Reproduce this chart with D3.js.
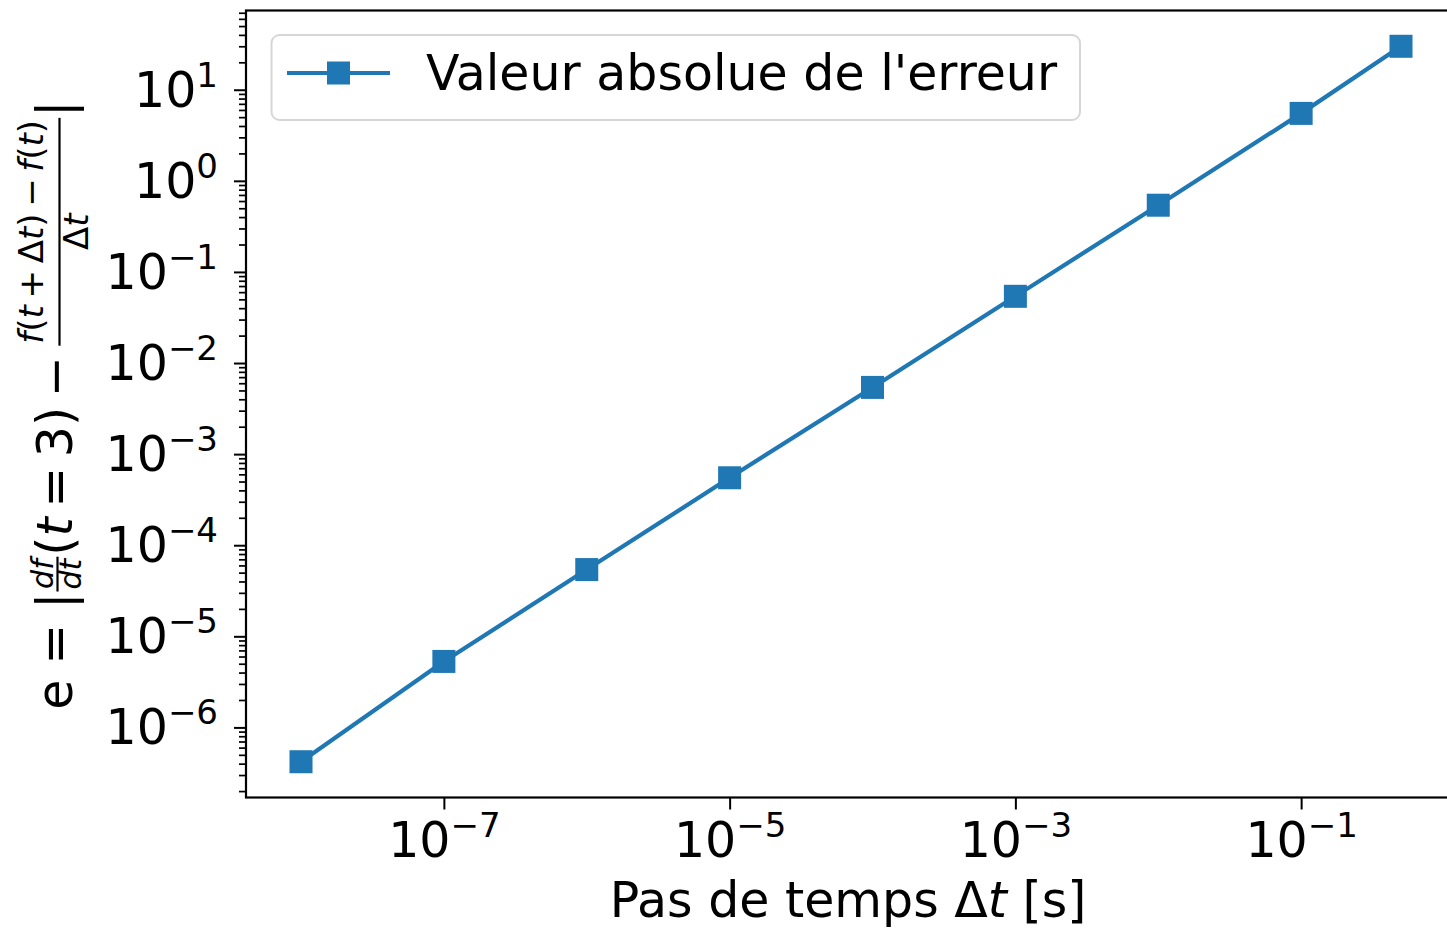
<!DOCTYPE html>
<html>
<head>
<meta charset="utf-8">
<script src="https://cdn.jsdelivr.net/npm/d3@7"></script>
<style>
  body { margin: 0; background: #ffffff; }
  svg { display: block; font-family: "DejaVu Sans", sans-serif; }
</style>
</head>
<body>
<svg id="chart" width="1447" height="930"></svg>
<script>
// Forward-difference error of the derivative at t = 3 versus the time step
const steps  = [1e-8, 1e-7, 1e-6, 1e-5, 1e-4, 1e-3, 1e-2, 1e-1, 0.5];
const errors = [4.2e-7, 5.3e-6, 5.4e-5, 5.5e-4, 5.4e-3, 5.4e-2, 0.54, 5.5, 30];
const xTickExponents = [-7, -5, -3, -1];
const yTickExponents = [-6, -5, -4, -3, -2, -1, 0, 1];
const seriesName = "Valeur absolue de l'erreur";

const BLUE = "#1f77b4";
const FONT = 49;          // tick / label size
const SUP = 34;           // exponent size
const svg = d3.select("#chart");

svg.append("rect").attr("width", 1447).attr("height", 930).attr("fill", "#fff");

// log axes padded by 5% of the decades spanned, like matplotlib autoscaling
function paddedLogDomain(vals, m = 0.05) {
  const lo = Math.log10(d3.min(vals)), hi = Math.log10(d3.max(vals));
  const pad = (hi - lo) * m;
  return [Math.pow(10, lo - pad), Math.pow(10, hi + pad)];
}
const plot = { left: 246, right: 1456, top: 10.5, bottom: 797.5 };
const x = d3.scaleLog().domain(paddedLogDomain(steps)).range([plot.left, plot.right]);
const y = d3.scaleLog().domain(paddedLogDomain(errors)).range([plot.bottom, plot.top]);

// minor ticks 2..9 per decade inside the y domain
const yMinor = [];
{
  const [d0, d1] = y.domain();
  for (let k = Math.floor(Math.log10(d0)); k <= Math.ceil(Math.log10(d1)); k++) {
    for (let m = 2; m <= 9; m++) {
      const v = m * Math.pow(10, k);
      if (v >= d0 && v <= d1) yMinor.push(v);
    }
  }
}

// power-of-ten label as "10" + raised exponent
function powerLabel(sel, exp) {
  sel.text(null);
  sel.append("tspan").text("10");
  sel.append("tspan").attr("font-size", SUP).attr("dy", -20)
    .text((exp < 0 ? "\u2212" : "") + Math.abs(exp));
}

// x axis
const gx = svg.append("g").attr("transform", `translate(0,${plot.bottom})`)
  .call(d3.axisBottom(x).tickValues(xTickExponents.map(e => Math.pow(10, e)))
    .tickSize(12).tickSizeOuter(0).tickFormat(""));
gx.select(".domain").remove();
gx.selectAll(".tick line").attr("stroke", "#000").attr("stroke-width", 2);
gx.selectAll(".tick text").each(function (d) {
  const t = d3.select(this).attr("y", 59.5).attr("dy", null)
    .attr("font-size", FONT).attr("fill", "#000").attr("font-family", "DejaVu Sans");
  powerLabel(t, Math.round(Math.log10(d)));
});

// y axis (minor then major)
const gyMinor = svg.append("g").attr("transform", `translate(${plot.left},0)`)
  .call(d3.axisLeft(y).tickValues(yMinor).tickSize(7).tickSizeOuter(0).tickFormat(""));
gyMinor.select(".domain").remove();
gyMinor.selectAll(".tick line").attr("stroke", "#000").attr("stroke-width", 1.7);

const gy = svg.append("g").attr("transform", `translate(${plot.left},0)`)
  .call(d3.axisLeft(y).tickValues(yTickExponents.map(e => Math.pow(10, e)))
    .tickSize(12).tickSizeOuter(0).tickFormat(""));
gy.select(".domain").remove();
gy.selectAll(".tick line").attr("stroke", "#000").attr("stroke-width", 2);
gy.selectAll(".tick text").each(function (d) {
  const t = d3.select(this).attr("x", -28).attr("dy", null).attr("y", 16.5)
    .attr("text-anchor", "end")
    .attr("font-size", FONT).attr("fill", "#000").attr("font-family", "DejaVu Sans");
  powerLabel(t, Math.round(Math.log10(d)));
});

// frame
svg.append("rect")
  .attr("x", plot.left).attr("y", plot.top)
  .attr("width", plot.right - plot.left).attr("height", plot.bottom - plot.top)
  .attr("fill", "none").attr("stroke", "#000").attr("stroke-width", 2.2);

// series
const pts = steps.map((s, i) => [s, errors[i]]);
svg.append("path").datum(pts)
  .attr("fill", "none").attr("stroke", BLUE).attr("stroke-width", 4.2)
  .attr("stroke-linejoin", "round")
  .attr("d", d3.line().x(d => x(d[0])).y(d => y(d[1])));
const MK = 23;
svg.append("g").selectAll("rect").data(pts).join("rect")
  .attr("x", d => x(d[0]) - MK / 2).attr("y", d => y(d[1]) - MK / 2)
  .attr("width", MK).attr("height", MK).attr("fill", BLUE);

// legend
const lg = svg.append("g");
lg.append("rect").attr("x", 271.5).attr("y", 35).attr("width", 808.5).attr("height", 85)
  .attr("rx", 8).attr("fill", "#fff").attr("fill-opacity", 0.8)
  .attr("stroke", "#cccccc").attr("stroke-opacity", 0.8).attr("stroke-width", 2);
lg.append("line").attr("x1", 287).attr("x2", 390).attr("y1", 73).attr("y2", 73)
  .attr("stroke", BLUE).attr("stroke-width", 4.2);
lg.append("rect").attr("x", 338.5 - MK / 2).attr("y", 73 - MK / 2)
  .attr("width", MK).attr("height", MK).attr("fill", BLUE);
lg.append("text").attr("x", 426).attr("y", 90).attr("font-size", FONT).attr("fill", "#000")
  .text(seriesName);

// x label: Pas de temps Δt [s]
const xl = svg.append("text").attr("x", (plot.left + plot.right) / 2 - 3).attr("y", 917)
  .attr("text-anchor", "middle").attr("font-size", FONT).attr("fill", "#000");
xl.append("tspan").text("Pas de temps \u0394");
xl.append("tspan").attr("font-style", "italic").text("t");
xl.append("tspan").text(" [s]");

// y label: typeset formula along the rotated baseline
const MAIN = 49, FS = 30, FB = 34;
function runWidth(parts, size) {
  const t = svg.append("text").attr("font-size", size);
  parts.forEach(p => t.append("tspan").attr("font-style", p[1] ? "italic" : "normal")
    .attr("dx", p[2] ? p[2] * size : 0).text(p[0]));
  const w = t.node().getComputedTextLength() + d3.sum(parts, p => (p[2] || 0) * size);
  t.remove();
  return w;
}
function drawRun(g, parts, size, u, v, anchor) {
  const t = g.append("text").attr("x", u).attr("y", v).attr("font-size", size)
    .attr("fill", "#000").attr("text-anchor", anchor || "start");
  parts.forEach(p => t.append("tspan").attr("font-style", p[1] ? "italic" : "normal")
    .attr("dx", p[2] ? p[2] * size : null).text(p[0]));
}
const sp = 0.195; // operator spacing, em
const yItems = [
  { run: [["e", 0]] },
  { gap: 0.3 * MAIN },
  { run: [["=", 0]] },
  { gap: 0.3 * MAIN },
  { run: [["|", 0]] },
  { frac: true, num: [["df", 1]], den: [["dt", 1]], size: FS, bar: -14, nb: -19, db: 9 },
  { run: [["(", 0], ["t", 1]] },
  { gap: sp * MAIN },
  { run: [["=", 0]] },
  { gap: sp * MAIN },
  { run: [["3)", 0]] },
  { gap: sp * MAIN },
  { run: [["\u2212", 0]] },
  { gap: sp * MAIN },
  { frac: true,
    num: [["f", 1], ["(", 0], ["t", 1], ["+", 0, sp], ["\u0394", 0, sp], ["t", 1], [")", 0],
          ["\u2212", 0, sp], ["f", 1, sp], ["(", 0], ["t", 1], [")", 0]],
    den: [["\u0394", 0], ["t", 1]], size: FB, bar: -12, nb: -29, db: 16.5 },
  { run: [["|", 0]] }
];
yItems.forEach(it => {
  if (it.gap != null) it.w = it.gap;
  else if (it.run) it.w = runWidth(it.run, MAIN);
  else {
    it.nw = runWidth(it.num, it.size);
    it.dw = runWidth(it.den, it.size);
    it.w = Math.max(it.nw, it.dw) + 6;
  }
});
const total = d3.sum(yItems, d => d.w);
const yl = svg.append("g")
  .attr("transform", `translate(71.5,${(plot.top + plot.bottom) / 2 + 1 + total / 2}) rotate(-90)`);
let u = 0;
yItems.forEach(it => {
  if (it.run) drawRun(yl, it.run, MAIN, u, 0);
  else if (it.frac) {
    const c = u + it.w / 2;
    drawRun(yl, it.num, it.size, c, it.nb, "middle");
    drawRun(yl, it.den, it.size, c, it.db, "middle");
    yl.append("line").attr("x1", u + 1).attr("x2", u + it.w - 1)
      .attr("y1", it.bar).attr("y2", it.bar).attr("stroke", "#000").attr("stroke-width", 2.2);
  }
  u += it.w;
});
</script>
</body>
</html>
